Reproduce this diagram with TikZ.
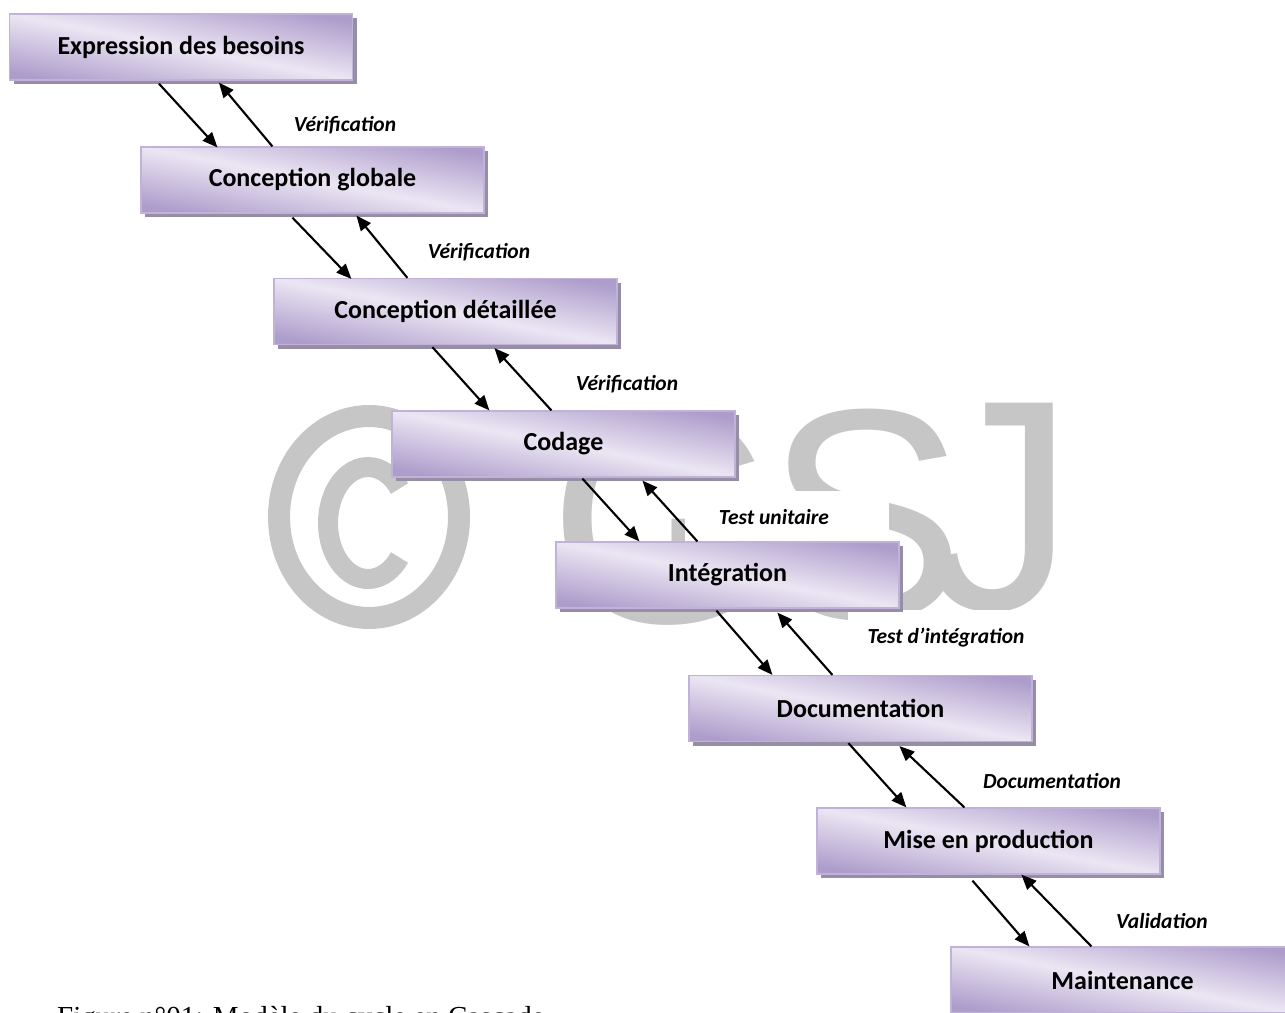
\documentclass[tikz,border=0pt]{standalone}
\usepackage{fontspec}
\setmainfont{Carlito}
\newfontfamily\capfont{Liberation Serif}
\newfontfamily\wmfont{Liberation Sans}
\usetikzlibrary{arrows.meta,calc,shadows}
\definecolor{boxedge}{RGB}{192,178,216}
\definecolor{boxshadow}{RGB}{150,142,165}
\definecolor{wmgray}{RGB}{198,198,198}
% diagonal shading: dark at lower-left and upper-right corners, light along the other diagonal
\pgfdeclarefunctionalshading{boxshade}{\pgfpointorigin}{\pgfpoint{100bp}{100bp}}{}{%
  add 100 sub 50 div abs 1.15 mul dup 1 gt {pop 1} if
  dup -0.240 mul 0.922 add exch
  dup -0.285 mul 0.902 add exch
  -0.155 mul 0.953 add}
\tikzset{
  stagebox/.style={minimum width=343pt, minimum height=66pt, inner sep=0pt,
    draw=boxedge, line width=1.2pt, shade, shading=boxshade,
    general shadow={fill=boxshadow, shadow xshift=4pt, shadow yshift=-4pt},
    font=\bfseries\fontsize{26}{30}\selectfont, text=black},
  lbl/.style={font=\bfseries\itshape\fontsize{21.5}{24}\selectfont, fill=white, inner sep=6pt},
  arr/.style={line width=2.1pt, -{Triangle[length=15pt,width=12.5pt]}},
  wmletter/.style={font=\wmfont\fontsize{300}{300}\selectfont, text=wmgray, inner sep=0pt},
  wmline/.style={draw=wmgray}
}
\begin{document}
\begin{tikzpicture}[x=1pt,y=-1pt]
\useasboundingbox (0,0) rectangle (1285,1012);
% watermark
\draw[wmline, line width=22pt] (369,517) ellipse [x radius=90, y radius=101];
\draw[wmline, line width=20pt] ($(368,523)+(38:40 and 56)$) arc [start angle=38, end angle=322, x radius=40, y radius=56];
\node[wmletter] (wmG) at (665,519) {G};
\node[wmletter] (wmS) at (866,515) {S};
\node[wmletter] (wmJ) at (1000,508) {J};
% labels
\node[lbl] (l1) at (345,125) {Vérification};
\node[lbl] (l2) at (479,252) {Vérification};
\node[lbl] (l3) at (627,384) {Vérification};
\node[lbl, inner xsep=34pt, inner ysep=18pt] (l4) at (787,517) {Test unitaire\hspace*{26pt}};
\node[lbl, inner xsep=20pt, inner ysep=18pt] (l5) at (946,638) {Test d’intégration};
\node[lbl] (l6) at (1052,781) {Documentation};
\node[lbl] (l7) at (1162,921) {Validation};
% boxes
\node[stagebox] (b1) at (181,47) {Expression des besoins};
\node[stagebox] (b2) at (312.5,180) {Conception globale};
\node[stagebox] (b3) at (445.5,311.5) {Conception détaillée};
\node[stagebox] (b4) at (563.5,444) {Codage};
\node[stagebox] (b5) at (727.5,575) {Intégration};
\node[stagebox] (b6) at (860.5,708.5) {Documentation};
\node[stagebox] (b7) at (988.5,841) {Mise en production};
\node[stagebox] (b8) at (1122.5,980) {Maintenance};
% down arrows
\draw[arr] ($(b1.south west)+(150,3)$) -- ($(b2.north west)+(77,1)$);
\draw[arr] ($(b2.south west)+(152,4)$) -- ($(b3.north west)+(78,1)$);
\draw[arr] ($(b3.south west)+(159,2)$) -- ($(b4.north west)+(98,0)$);
\draw[arr] ($(b4.south west)+(191,1)$) -- ($(b5.north west)+(84,0)$);
\draw[arr] ($(b5.south west)+(161,2)$) -- ($(b6.north west)+(84,0)$);
\draw[arr] ($(b6.south west)+(160,1)$) -- ($(b7.north west)+(90,0)$);
\draw[arr] ($(b7.south west)+(156,6)$) -- ($(b8.north west)+(79,0)$);
% up arrows
\draw[arr] ($(b2.north west)+(132,0)$) -- ($(b1.south west)+(210,2)$);
\draw[arr] ($(b3.north west)+(134,0)$) -- ($(b2.south west)+(216,2)$);
\draw[arr] ($(b4.north west)+(160,0)$) -- ($(b3.south west)+(221,3)$);
\draw[arr] ($(b5.north west)+(142,0)$) -- ($(b4.south west)+(251,3)$);
\draw[arr] ($(b6.north west)+(144,0)$) -- ($(b5.south west)+(222,4)$);
\draw[arr] ($(b7.north west)+(148,0)$) -- ($(b6.south west)+(211,4)$);
\draw[arr] ($(b8.north west)+(141,0)$) -- ($(b7.south west)+(205,0)$);
% caption
\node[font=\capfont\fontsize{29}{32}\selectfont, anchor=base west, inner sep=0pt] (cap) at (57,1026) {Figure n°01: Modèle du cycle en Cascade};
\end{tikzpicture}
\end{document}
